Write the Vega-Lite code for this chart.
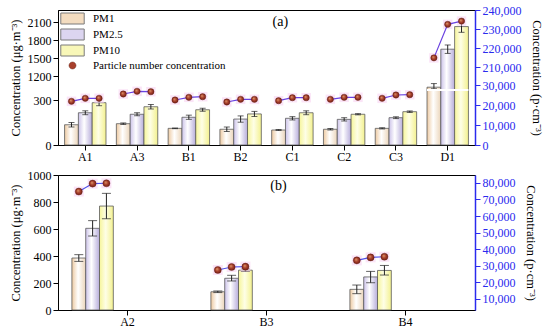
{
  "$schema": "https://vega.github.io/schema/vega-lite/v6.json",
  "padding": {"left": 8, "top": 3, "right": 2, "bottom": 2},
  "background": "white",
  "datasets": {
    "a": [
      {"site": "A1", "pm": "PM1", "k": 1, "v": 135, "lo": 120, "hi": 150, "pnc": 21850},
      {"site": "A1", "pm": "PM2.5", "k": 2, "v": 215, "lo": 202, "hi": 228, "pnc": 23350},
      {"site": "A1", "pm": "PM10", "k": 3, "v": 282, "lo": 262, "hi": 302, "pnc": 23350},
      {"site": "A3", "pm": "PM1", "k": 1, "v": 142, "lo": 137, "hi": 147, "pnc": 25500},
      {"site": "A3", "pm": "PM2.5", "k": 2, "v": 205, "lo": 195, "hi": 215, "pnc": 26850},
      {"site": "A3", "pm": "PM10", "k": 3, "v": 255, "lo": 240, "hi": 270, "pnc": 26650},
      {"site": "B1", "pm": "PM1", "k": 1, "v": 111, "lo": 109, "hi": 113, "pnc": 22500},
      {"site": "B1", "pm": "PM2.5", "k": 2, "v": 185, "lo": 171, "hi": 199, "pnc": 23850},
      {"site": "B1", "pm": "PM10", "k": 3, "v": 235, "lo": 225, "hi": 245, "pnc": 24150},
      {"site": "B2", "pm": "PM1", "k": 1, "v": 105, "lo": 90, "hi": 120, "pnc": 21500},
      {"site": "B2", "pm": "PM2.5", "k": 2, "v": 173, "lo": 152, "hi": 194, "pnc": 22850},
      {"site": "B2", "pm": "PM10", "k": 3, "v": 207, "lo": 190, "hi": 224, "pnc": 22850},
      {"site": "C1", "pm": "PM1", "k": 1, "v": 100, "lo": 97, "hi": 103, "pnc": 22150},
      {"site": "C1", "pm": "PM2.5", "k": 2, "v": 178, "lo": 167, "hi": 189, "pnc": 23650},
      {"site": "C1", "pm": "PM10", "k": 3, "v": 215, "lo": 202, "hi": 228, "pnc": 23650},
      {"site": "C2", "pm": "PM1", "k": 1, "v": 105, "lo": 100, "hi": 110, "pnc": 22850},
      {"site": "C2", "pm": "PM2.5", "k": 2, "v": 171, "lo": 160, "hi": 182, "pnc": 23850},
      {"site": "C2", "pm": "PM10", "k": 3, "v": 205, "lo": 201, "hi": 209, "pnc": 23850},
      {"site": "C3", "pm": "PM1", "k": 1, "v": 111, "lo": 107, "hi": 115, "pnc": 23350},
      {"site": "C3", "pm": "PM2.5", "k": 2, "v": 182, "lo": 176, "hi": 188, "pnc": 25000},
      {"site": "C3", "pm": "PM10", "k": 3, "v": 222, "lo": 217, "hi": 227, "pnc": 25150},
      {"site": "D1", "pm": "PM1", "k": 1, "v": 1020, "lo": 995, "hi": 1080, "pnc": 215000},
      {"site": "D1", "pm": "PM2.5", "k": 2, "v": 1650, "lo": 1580, "hi": 1720, "pnc": 232500},
      {"site": "D1", "pm": "PM10", "k": 3, "v": 2025, "lo": 1930, "hi": 2120, "pnc": 234200}
    ],
    "b": [
      {"site": "A2", "pm": "PM1", "k": 1, "v": 385, "lo": 360, "hi": 410, "pnc": 74800},
      {"site": "A2", "pm": "PM2.5", "k": 2, "v": 605, "lo": 548, "hi": 662, "pnc": 79600},
      {"site": "A2", "pm": "PM10", "k": 3, "v": 770, "lo": 676, "hi": 864, "pnc": 79800},
      {"site": "B3", "pm": "PM1", "k": 1, "v": 135, "lo": 129, "hi": 141, "pnc": 27400},
      {"site": "B3", "pm": "PM2.5", "k": 2, "v": 235, "lo": 215, "hi": 257, "pnc": 29200},
      {"site": "B3", "pm": "PM10", "k": 3, "v": 295, "lo": 285, "hi": 305, "pnc": 29400},
      {"site": "B4", "pm": "PM1", "k": 1, "v": 153, "lo": 121, "hi": 185, "pnc": 33200},
      {"site": "B4", "pm": "PM2.5", "k": 2, "v": 245, "lo": 202, "hi": 286, "pnc": 35000},
      {"site": "B4", "pm": "PM10", "k": 3, "v": 293, "lo": 259, "hi": 330, "pnc": 35400}
    ],
    "labels": [
      {"panel": "a", "t": "(a)"},
      {"panel": "b", "t": "(b)"}
    ]
  },
  "vconcat": [
    {
      "width": 417,
      "height": 135,
      "data": {"name": "a"},
      "encoding": {
        "x": {"field": "site", "type": "nominal", "scale": {"domain": ["A1", "A3", "B1", "B2", "C1", "C2", "C3", "D1"], "paddingInner": 0.2, "paddingOuter": 0.127}, "axis": {"title": null, "labelAngle": 0, "labelPadding": 1}}
      },
      "layer": [
        {
          "encoding": {
            "xOffset": {"field": "pm", "type": "nominal", "scale": {"domain": ["PM1", "PM2.5", "PM10"], "paddingInner": 0, "paddingOuter": 0}}
          },
          "layer": [
            {
              "transform": [{"filter": "datum.pm === 'PM1'"}],
              "mark": {"type": "bar", "stroke": "#5a5a5a", "strokeWidth": 0.8, "fill": {"gradient": "linear", "x1": 0, "y1": 0, "x2": 1, "y2": 0, "stops": [{"offset": 0, "color": "#edcaa2"}, {"offset": 0.45, "color": "#ffffff"}, {"offset": 1, "color": "#ebd5ba"}]}},
              "encoding": {
                "y": {"field": "v", "type": "quantitative", "title": "Concentration (μg·m⁻³)", "scale": {"domain": [0, 360, 990, 2300], "range": [135, 81, 79, 0], "nice": false, "zero": false}, "axis": {"values": [0, 300, 1200, 1500, 1800, 2100], "format": "d", "labelOverlap": false, "titlePadding": 5}}
              }
            },
            {
              "transform": [{"filter": "datum.pm === 'PM2.5'"}],
              "mark": {"type": "bar", "stroke": "#5a5a5a", "strokeWidth": 0.8, "fill": {"gradient": "linear", "x1": 0, "y1": 0, "x2": 1, "y2": 0, "stops": [{"offset": 0, "color": "#ccc3e9"}, {"offset": 0.42, "color": "#ffffff"}, {"offset": 1, "color": "#b7addb"}]}},
              "encoding": {"y": {"field": "v", "type": "quantitative", "title": "Concentration (μg·m⁻³)", "scale": {"domain": [0, 360, 990, 2300], "range": [135, 81, 79, 0], "nice": false, "zero": false}, "axis": {"values": [0, 300, 1200, 1500, 1800, 2100], "format": "d", "labelOverlap": false, "titlePadding": 5}}}
            },
            {
              "transform": [{"filter": "datum.pm === 'PM10'"}],
              "mark": {"type": "bar", "stroke": "#5a5a5a", "strokeWidth": 0.8, "fill": {"gradient": "linear", "x1": 0, "y1": 0, "x2": 1, "y2": 0, "stops": [{"offset": 0, "color": "#f6f59a"}, {"offset": 0.45, "color": "#fefee6"}, {"offset": 1, "color": "#f3f18e"}]}},
              "encoding": {"y": {"field": "v", "type": "quantitative", "title": "Concentration (μg·m⁻³)", "scale": {"domain": [0, 360, 990, 2300], "range": [135, 81, 79, 0], "nice": false, "zero": false}, "axis": {"values": [0, 300, 1200, 1500, 1800, 2100], "format": "d", "labelOverlap": false, "titlePadding": 5}}}
            },
            {
              "mark": {"type": "rule", "color": "#222", "strokeWidth": 1},
              "encoding": {
                "y": {"field": "lo", "type": "quantitative", "title": "Concentration (μg·m⁻³)", "scale": {"domain": [0, 360, 990, 2300], "range": [135, 81, 79, 0], "nice": false, "zero": false}, "axis": {"values": [0, 300, 1200, 1500, 1800, 2100], "format": "d", "labelOverlap": false, "titlePadding": 5}},
                "y2": {"field": "hi"},
                "fill": {
                  "field": "pm", "type": "nominal",
                  "scale": {"domain": ["PM1", "PM2.5", "PM10", "Particle number concentration"], "range": ["#f3dcc0", "#dcd5f0", "#f8f7b8", "#a8402c"]},
                  "legend": {
                    "title": null,
                    "orient": "top-left",
                    "offset": 3,
                    "padding": 0,
                    "labelFont": "Liberation Serif",
                    "labelFontSize": 11,
                    "labelColor": "#000",
                    "symbolType": "M-2.13,-1H2.13V1H-2.13Z",
                    "symbolSize": 121,
                    "symbolStrokeWidth": 1,
                    "symbolStrokeColor": "#7a7a7a",
                    "symbolOffset": 6,
                    "labelOffset": 15,
                    "rowPadding": 1,
                    "encode": {
                      "symbols": {
                        "update": {
                          "shape": {"signal": "datum.value === 'Particle number concentration' ? 'M-0.64,0A0.64,0.64 0 1,0 0.64,0A0.64,0.64 0 1,0 -0.64,0Z' : 'M-2.13,-1H2.13V1H-2.13Z'"},
                          "stroke": {"signal": "datum.value === 'Particle number concentration' ? '#5a1c10' : '#7a7a7a'"},
                          "strokeWidth": {"signal": "datum.value === 'Particle number concentration' ? 0.4 : 1"},
                          "fill": {"signal": "datum.value === 'PM1' ? {gradient: 'linear', x1: 0, y1: 0, x2: 1, y2: 0, stops: [{offset: 0, color: '#edcaa2'}, {offset: 0.45, color: '#ffffff'}, {offset: 1, color: '#ebd5ba'}]} : datum.value === 'PM2.5' ? {gradient: 'linear', x1: 0, y1: 0, x2: 1, y2: 0, stops: [{offset: 0, color: '#ccc3e9'}, {offset: 0.42, color: '#ffffff'}, {offset: 1, color: '#b7addb'}]} : datum.value === 'PM10' ? {gradient: 'linear', x1: 0, y1: 0, x2: 1, y2: 0, stops: [{offset: 0, color: '#f6f59a'}, {offset: 0.45, color: '#fefee6'}, {offset: 1, color: '#f3f18e'}]} : {gradient: 'radial', x1: 0.38, y1: 0.35, r1: 0, x2: 0.5, y2: 0.5, r2: 0.55, stops: [{offset: 0, color: '#e2a070'}, {offset: 0.5, color: '#a8402c'}, {offset: 1, color: '#6e1a14'}]}"},
                          "opacity": {"value": 1},
                          "fillOpacity": {"value": 1},
                          "strokeOpacity": {"value": 1}
                        }
                      }
                    }
                  }
                }
              }
            },
            {
              "mark": {"type": "tick", "color": "#222", "thickness": 1, "size": 6},
              "encoding": {"y": {"field": "hi", "type": "quantitative", "title": "Concentration (μg·m⁻³)", "scale": {"domain": [0, 360, 990, 2300], "range": [135, 81, 79, 0], "nice": false, "zero": false}, "axis": {"values": [0, 300, 1200, 1500, 1800, 2100], "format": "d", "labelOverlap": false, "titlePadding": 5}}}
            },
            {
              "mark": {"type": "tick", "color": "#222", "thickness": 1, "size": 6},
              "encoding": {"y": {"field": "lo", "type": "quantitative", "title": "Concentration (μg·m⁻³)", "scale": {"domain": [0, 360, 990, 2300], "range": [135, 81, 79, 0], "nice": false, "zero": false}, "axis": {"values": [0, 300, 1200, 1500, 1800, 2100], "format": "d", "labelOverlap": false, "titlePadding": 5}}}
            }
          ]
        },
        {
          "layer": [
            {
              "data": {"values": [{"site": "D1"}]},
              "mark": {"type": "rect", "fill": "white"},
              "encoding": {
                "y": {"datum": 360, "type": "quantitative", "scale": {"domain": [0, 360, 990, 2300], "range": [135, 81, 79, 0], "nice": false, "zero": false}, "axis": null},
                "y2": {"datum": 990}
              }
            },
            {
              "data": {"name": "labels"},
              "transform": [{"filter": "datum.panel === 'a'"}],
              "mark": {"type": "text", "font": "Liberation Serif", "fontSize": 14, "color": "#000", "dx": -12},
              "encoding": {
                "x": {"datum": "C1"},
                "y": {"datum": 2100, "type": "quantitative", "scale": {"domain": [0, 360, 990, 2300], "range": [135, 81, 79, 0], "nice": false, "zero": false}, "axis": null},
                "text": {"field": "t"}
              }
            }
          ]
        },
        {
          "encoding": {
            "y": {"field": "pnc", "type": "quantitative", "title": "Concentration (p·cm⁻³)", "scale": {"domain": [0, 34000, 205000, 240000], "range": [135, 67, 67, 0], "nice": false, "zero": false}, "axis": {"orient": "right", "values": [0, 10000, 20000, 30000, 210000, 220000, 230000, 240000], "format": ",d", "labelOverlap": false, "labelColor": "#2a2aee", "tickColor": "#2a2aee", "domainColor": "#2a2aee", "domainWidth": 1.5, "titlePadding": 8}},
            "xOffset": {"field": "pm", "type": "nominal", "scale": {"domain": ["PM1", "PM2.5", "PM10"], "paddingInner": 0, "paddingOuter": 0}}
          },
          "layer": [
            {"mark": {"type": "square", "fill": "#f8d2f2", "opacity": 0.6, "size": 90, "strokeWidth": 0}},
            {"mark": {"type": "line", "color": "#6a42e0", "strokeWidth": 1.2}, "encoding": {"detail": {"field": "site"}, "order": {"field": "k", "type": "quantitative"}}},
            {"mark": {"type": "point", "filled": true, "opacity": 1, "size": 40, "stroke": "#5a1c10", "strokeWidth": 0.4, "fill": {"gradient": "radial", "x1": 0.38, "y1": 0.35, "r1": 0, "x2": 0.5, "y2": 0.5, "r2": 0.55, "stops": [{"offset": 0, "color": "#e2a070"}, {"offset": 0.5, "color": "#a8402c"}, {"offset": 1, "color": "#6e1a14"}]}}}
          ]
        }
      ],
      "resolve": {"scale": {"y": "independent"}}
    },
    {
      "width": 417,
      "height": 135,
      "data": {"name": "b"},
      "encoding": {
        "x": {"field": "site", "type": "nominal", "scale": {"domain": ["A2", "B3", "B4"], "paddingInner": 0.2, "paddingOuter": 0.1}, "axis": {"title": null, "labelAngle": 0, "labelPadding": 1}}
      },
      "layer": [
        {
          "encoding": {
            "xOffset": {"field": "pm", "type": "nominal", "scale": {"domain": ["PM1", "PM2.5", "PM10"], "paddingInner": 0, "paddingOuter": 0}}
          },
          "layer": [
            {
              "transform": [{"filter": "datum.pm === 'PM1'"}],
              "mark": {"type": "bar", "stroke": "#5a5a5a", "strokeWidth": 0.8, "fill": {"gradient": "linear", "x1": 0, "y1": 0, "x2": 1, "y2": 0, "stops": [{"offset": 0, "color": "#edcaa2"}, {"offset": 0.45, "color": "#ffffff"}, {"offset": 1, "color": "#ebd5ba"}]}},
              "encoding": {
                "y": {"field": "v", "type": "quantitative", "title": "Concentration (μg·m⁻³)", "scale": {"domain": [0, 1000], "nice": false}, "axis": {"values": [0, 200, 400, 600, 800, 1000], "format": "d", "labelOverlap": false, "titlePadding": 5}}
              }
            },
            {
              "transform": [{"filter": "datum.pm === 'PM2.5'"}],
              "mark": {"type": "bar", "stroke": "#5a5a5a", "strokeWidth": 0.8, "fill": {"gradient": "linear", "x1": 0, "y1": 0, "x2": 1, "y2": 0, "stops": [{"offset": 0, "color": "#ccc3e9"}, {"offset": 0.42, "color": "#ffffff"}, {"offset": 1, "color": "#b7addb"}]}},
              "encoding": {"y": {"field": "v", "type": "quantitative", "title": "Concentration (μg·m⁻³)", "scale": {"domain": [0, 1000], "nice": false}, "axis": {"values": [0, 200, 400, 600, 800, 1000], "format": "d", "labelOverlap": false, "titlePadding": 5}}}
            },
            {
              "transform": [{"filter": "datum.pm === 'PM10'"}],
              "mark": {"type": "bar", "stroke": "#5a5a5a", "strokeWidth": 0.8, "fill": {"gradient": "linear", "x1": 0, "y1": 0, "x2": 1, "y2": 0, "stops": [{"offset": 0, "color": "#f6f59a"}, {"offset": 0.45, "color": "#fefee6"}, {"offset": 1, "color": "#f3f18e"}]}},
              "encoding": {"y": {"field": "v", "type": "quantitative", "title": "Concentration (μg·m⁻³)", "scale": {"domain": [0, 1000], "nice": false}, "axis": {"values": [0, 200, 400, 600, 800, 1000], "format": "d", "labelOverlap": false, "titlePadding": 5}}}
            },
            {
              "mark": {"type": "rule", "color": "#222", "strokeWidth": 1},
              "encoding": {
                "y": {"field": "lo", "type": "quantitative", "title": "Concentration (μg·m⁻³)", "scale": {"domain": [0, 1000], "nice": false}, "axis": {"values": [0, 200, 400, 600, 800, 1000], "format": "d", "labelOverlap": false, "titlePadding": 5}},
                "y2": {"field": "hi"}
              }
            },
            {
              "mark": {"type": "tick", "color": "#222", "thickness": 1, "size": 9},
              "encoding": {"y": {"field": "hi", "type": "quantitative", "title": "Concentration (μg·m⁻³)", "scale": {"domain": [0, 1000], "nice": false}, "axis": {"values": [0, 200, 400, 600, 800, 1000], "format": "d", "labelOverlap": false, "titlePadding": 5}}}
            },
            {
              "mark": {"type": "tick", "color": "#222", "thickness": 1, "size": 9},
              "encoding": {"y": {"field": "lo", "type": "quantitative", "title": "Concentration (μg·m⁻³)", "scale": {"domain": [0, 1000], "nice": false}, "axis": {"values": [0, 200, 400, 600, 800, 1000], "format": "d", "labelOverlap": false, "titlePadding": 5}}}
            }
          ]
        },
        {
          "data": {"name": "labels"},
          "transform": [{"filter": "datum.panel === 'b'"}],
          "mark": {"type": "text", "font": "Liberation Serif", "fontSize": 14, "color": "#000", "dx": 12},
          "encoding": {
            "x": {"datum": "B3"},
            "y": {"datum": 915, "type": "quantitative", "scale": {"domain": [0, 1000], "nice": false}, "axis": null},
            "text": {"field": "t"}
          }
        },
        {
          "encoding": {
            "y": {"field": "pnc", "type": "quantitative", "title": "Concentration (p·cm⁻³)", "scale": {"domain": [3200, 84800], "nice": false, "zero": false}, "axis": {"orient": "right", "values": [10000, 20000, 30000, 40000, 50000, 60000, 70000, 80000], "format": ",d", "labelOverlap": false, "labelColor": "#2a2aee", "tickColor": "#2a2aee", "domainColor": "#2a2aee", "domainWidth": 1.5, "titlePadding": 8}},
            "xOffset": {"field": "pm", "type": "nominal", "scale": {"domain": ["PM1", "PM2.5", "PM10"], "paddingInner": 0, "paddingOuter": 0}}
          },
          "layer": [
            {"mark": {"type": "square", "fill": "#f8d2f2", "opacity": 0.6, "size": 100, "strokeWidth": 0}},
            {"mark": {"type": "line", "color": "#5050e8", "strokeWidth": 1.2}, "encoding": {"detail": {"field": "site"}, "order": {"field": "k", "type": "quantitative"}}},
            {"mark": {"type": "point", "filled": true, "opacity": 1, "size": 50, "stroke": "#5a1c10", "strokeWidth": 0.4, "fill": {"gradient": "radial", "x1": 0.38, "y1": 0.35, "r1": 0, "x2": 0.5, "y2": 0.5, "r2": 0.55, "stops": [{"offset": 0, "color": "#e2a070"}, {"offset": 0.5, "color": "#a8402c"}, {"offset": 1, "color": "#6e1a14"}]}}}
          ]
        }
      ],
      "resolve": {"scale": {"y": "independent"}}
    }
  ],
  "spacing": 5,
  "config": {
    "font": "Liberation Serif",
    "view": {"stroke": "#000", "strokeWidth": 1},
    "axis": {"labelFont": "Liberation Serif", "labelFontSize": 12, "labelColor": "#000", "titleFont": "Liberation Serif", "titleFontSize": 12.5, "titleFontWeight": "normal", "titleColor": "#000", "tickColor": "#000", "domainColor": "#000", "tickSize": 5, "grid": false, "labelPadding": 2, "labelOverlap": false},
    "axisY": {"labelOverlap": false},
    "axisQuantitative": {"labelOverlap": false},
    "legend": {"labelFont": "Liberation Serif"}
  }
}
